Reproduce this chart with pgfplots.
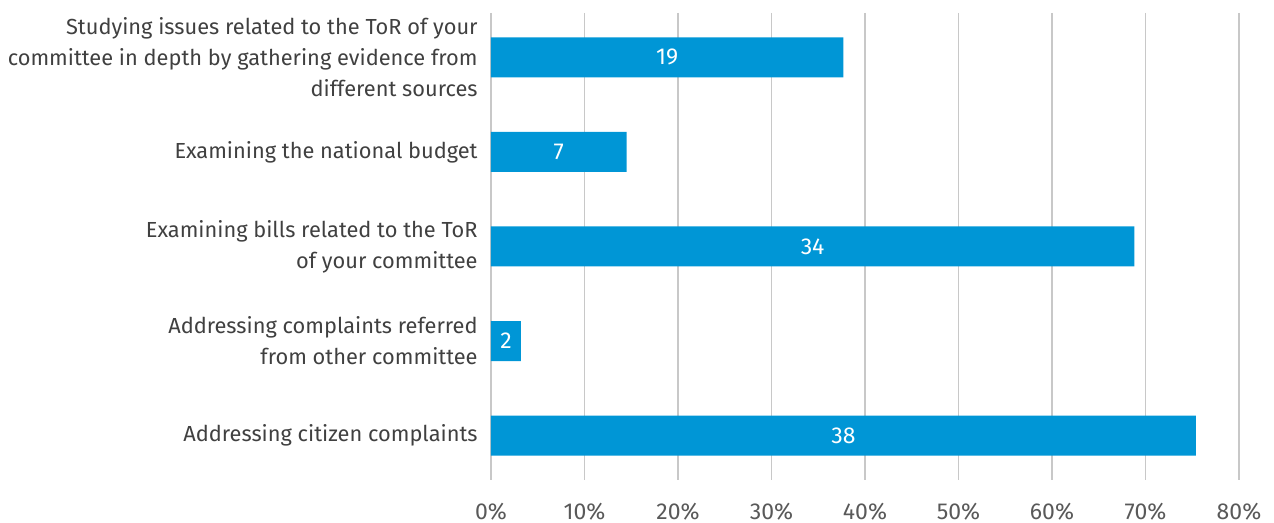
\documentclass[border=0pt]{standalone}
\usepackage{pgfplots}
\pgfplotsset{compat=1.18}
\usepackage{pgfplotstable}
\usepackage{fontspec}
\setmainfont{Fira Sans}
\definecolor{barblue}{RGB}{0,150,214}
\definecolor{gridgray}{RGB}{200,200,200}
\definecolor{labelgray}{RGB}{64,64,64}
\definecolor{tickgray}{RGB}{89,89,89}

% share (%) and count per activity, top to bottom
\pgfplotstableread{
y v n
0 37.7 19
1 14.5 7
2 68.8 34
3 3.2 2
4 75.4 38
}\datatable

\begin{document}
\begin{tikzpicture}
\begin{axis}[
    scale only axis,
    width=374pt,
    height=233.5pt,
    y dir=reverse,
    xmin=0, xmax=80,
    ymin=-0.47, ymax=4.47,
    xtick={0,10,...,80},
    xticklabels={0\%,10\%,20\%,30\%,40\%,50\%,60\%,70\%,80\%},
    ytick={0,1,2,3,4},
    yticklabels={
        {Studying issues related to the ToR of your\\committee in depth by gathering evidence from\\different sources},
        {Examining the national budget},
        {Examining bills related to the ToR\\of your committee},
        {Addressing complaints referred\\from other committee},
        {Addressing citizen complaints}},
    axis line style={draw=none},
    major tick length=0pt,
    xmajorgrids,
    grid style={gridgray, line width=0.6pt},
    yticklabel style={align=right, font=\fontsize{10.9}{15.5}\selectfont, text=labelgray, inner sep=0pt, xshift=-6.5pt},
    xticklabel style={font=\fontsize{11.5}{14}\selectfont, text=tickgray, inner sep=0pt, yshift=-11.5pt},
    clip=false,
]
\addplot[xbar, bar width=20pt, fill=barblue, draw=none] table[x=v, y=y] \datatable;
\addplot[draw=none, mark=none, nodes near coords, point meta=explicit symbolic,
    every node near coord/.append style={anchor=center, text=white, font=\fontsize{11.5}{14}\selectfont}]
    table[x expr=\thisrow{v}/2, y=y, meta=n] \datatable;
\end{axis}
\pgfresetboundingbox
\path (current axis.south west) ++(-245.5pt,-21.5pt) coordinate (bl);
\path (current axis.north east) ++(17.5pt,6.5pt) coordinate (tr);
\path (bl) rectangle (tr);
\end{tikzpicture}
\end{document}
